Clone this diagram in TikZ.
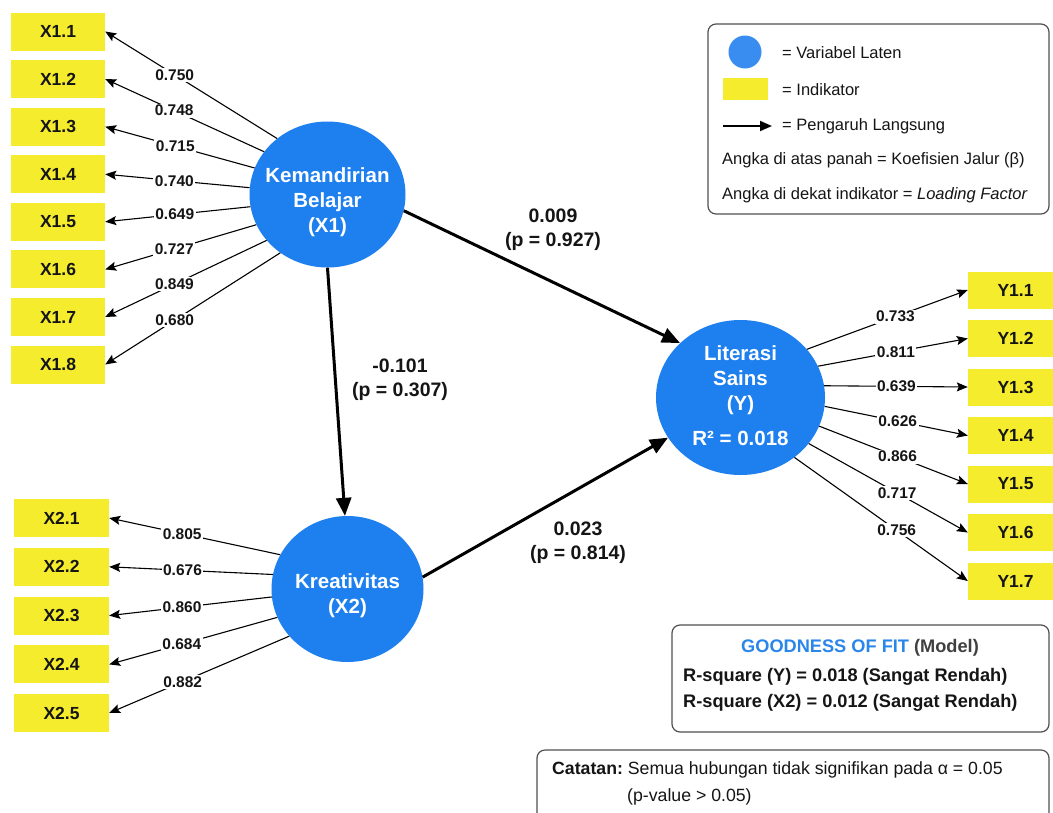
\documentclass[tikz,border=0pt]{standalone}
\usepackage{fontspec}
\setmainfont{Liberation Sans}
\usetikzlibrary{arrows.meta,shapes.geometric}
\definecolor{lvblue}{HTML}{1E7FEF}
\definecolor{legblue}{HTML}{3A8DF0}
\definecolor{indyel}{HTML}{F6EC2E}
\definecolor{txt}{HTML}{151515}
\definecolor{boxgray}{HTML}{505050}
\definecolor{gofblue}{HTML}{2A86EA}
\definecolor{modelgray}{HTML}{404040}
\frenchspacing
\begin{document}
\begin{tikzpicture}[x=1pt,y=-1pt,
  latent/.style={ellipse, fill=lvblue, inner sep=0pt},
  lvtext/.style={text=white, font=\fontsize{20.5}{25}\selectfont\bfseries, align=center, inner sep=0pt},
  ind/.style={rectangle, fill=indyel, minimum height=38pt, inner sep=0pt, text=txt, font=\fontsize{17.5}{20}\selectfont\bfseries},
  load/.style={draw=black, line width=1.1pt, -{Stealth[length=11pt,width=9pt,inset=2pt]}},
  lab/.style={fill=white, text=txt, font=\fontsize{15.5}{18}\selectfont\bfseries, inner sep=1.5pt},
  patharrow/.style={draw=black, line width=3pt, -{Triangle[length=18pt,width=15pt]}},
  plab/.style={text=txt, font=\fontsize{19.5}{24}\selectfont\bfseries, align=center, inner sep=0pt},
  legtxt/.style={text=txt, font=\fontsize{16.5}{19}\selectfont, inner sep=0pt, anchor=west},
  frame/.style={draw=boxgray, line width=1.2pt, rounded corners=8pt, fill=white},
  gofl/.style={text=txt, font=\fontsize{18.2}{22}\selectfont\bfseries, inner sep=0pt, anchor=west},
  cattxt/.style={text=txt, font=\fontsize{17.7}{21}\selectfont, inner sep=0pt, anchor=west}
]
\clip (0,0) rectangle (1053,812);
\fill[white] (0,0) rectangle (1053,812);

% latent variables
\node[latent, minimum width=156pt, minimum height=146pt] (X1) at (327.5,194.5) {};
\node[latent, minimum width=152pt, minimum height=146pt] (X2) at (347.5,589) {};
\node[latent, minimum width=169pt, minimum height=155pt] (Y) at (740.5,397.5) {};
\node[lvtext] (X1t) at (327.5,202) {Kemandirian\\Belajar\\(X1)};
\node[lvtext] (X2t) at (347.5,595.5) {Kreativitas\\(X2)};
\node[lvtext] (Yt) at (740.5,396) {Literasi\\Sains\\(Y)\\[10pt]R² = 0.018};

% X1 indicators
\node[ind, minimum width=94pt] (x11) at (58,31.5) {X1.1};
\node[ind, minimum width=94pt] (x12) at (58,79) {X1.2};
\node[ind, minimum width=94pt] (x13) at (58,126.7) {X1.3};
\node[ind, minimum width=94pt] (x14) at (58,174.2) {X1.4};
\node[ind, minimum width=94pt] (x15) at (58,221.8) {X1.5};
\node[ind, minimum width=94pt] (x16) at (58,269.4) {X1.6};
\node[ind, minimum width=94pt] (x17) at (58,317) {X1.7};
\node[ind, minimum width=94pt] (x18) at (58,364.5) {X1.8};

\draw[load] (X1.132) -- node[lab,pos=0.596] (l11) {0.750} (x11.east);
\draw[load] (X1.146) -- node[lab,pos=0.566] (l12) {0.748} (x12.east);
\draw[load] (X1.160) -- node[lab,pos=0.531] (l13) {0.715} (x13.east);
\draw[load] (X1.175) -- node[lab,pos=0.521] (l14) {0.740} (x14.east);
\draw[load] (X1.189) -- node[lab,pos=0.521] (l15) {0.649} (x15.east);
\draw[load] (X1.203) -- node[lab,pos=0.543] (l16) {0.727} (x16.east);
\draw[load] (X1.217) -- node[lab,pos=0.571] (l17) {0.849} (x17.east);
\draw[load] (X1.231) -- node[lab,pos=0.603] (l18) {0.680} (x18.east);

% X2 indicators
\node[ind, minimum width=95pt] (x21) at (61.5,518) {X2.1};
\node[ind, minimum width=95pt] (x22) at (61.5,566.8) {X2.2};
\node[ind, minimum width=95pt] (x23) at (61.5,615.6) {X2.3};
\node[ind, minimum width=95pt] (x24) at (61.5,664.4) {X2.4};
\node[ind, minimum width=95pt] (x25) at (61.5,713) {X2.5};

\draw[load] (X2.153) -- node[lab,pos=0.573] (l21) {0.805} (x21.east);
\draw[load] (X2.169) -- node[lab,pos=0.552] (l22) {0.676} (x22.east);
\draw[load] (X2.186) -- node[lab,pos=0.552] (l23) {0.860} (x23.east);
\draw[load] (X2.202) -- node[lab,pos=0.568] (l24) {0.684} (x24.east);
\draw[load] (X2.219) -- node[lab,pos=0.592] (l25) {0.882} (x25.east);

% Y indicators
\node[ind, minimum width=95pt, minimum height=37pt] (y11) at (1015.5,290) {Y1.1};
\node[ind, minimum width=95pt, minimum height=37pt] (y12) at (1015.5,338.5) {Y1.2};
\node[ind, minimum width=95pt, minimum height=37pt] (y13) at (1015.5,387) {Y1.3};
\node[ind, minimum width=95pt, minimum height=37pt] (y14) at (1015.5,435.5) {Y1.4};
\node[ind, minimum width=95pt, minimum height=37pt] (y15) at (1015.5,484) {Y1.5};
\node[ind, minimum width=95pt, minimum height=37pt] (y16) at (1015.5,532.5) {Y1.6};
\node[ind, minimum width=95pt, minimum height=37pt] (y17) at (1015.5,581) {Y1.7};

\draw[load] (Y.36) -- node[lab,pos=0.55] (m1) {0.733} (y11.west);
\draw[load] (Y.22) -- node[lab,pos=0.52] (m2) {0.811} (y12.west);
\draw[load] (Y.8) -- node[lab,pos=0.503] (m3) {0.639} (y13.west);
\draw[load] (Y.-6) -- node[lab,pos=0.51] (m4) {0.626} (y14.west);
\draw[load] (Y.-20) -- node[lab,pos=0.527] (m5) {0.866} (y15.west);
\draw[load] (Y.-34) -- node[lab,pos=0.556] (m6) {0.717} (y16.west);
\draw[load] (Y.-48) -- node[lab,pos=0.59] (m7) {0.756} (y17.west);

% structural paths
\draw[patharrow] (X1.-12) -- (Y.138);
\draw[patharrow] (X1.270) -- (X2.92);
\draw[patharrow] (X2.9) -- (Y.209);
\node[plab] (p1) at (553,230) {0.009\\(p = 0.927)};
\node[plab] (p2) at (400,380) {-0.101\\(p = 0.307)};
\node[plab] (p3) at (578,543) {0.023\\(p = 0.814)};

% legend
\draw[frame] (708,24) rectangle (1049,214);
\node[circle, fill=legblue, minimum size=33pt, inner sep=0pt] (lc) at (745,52) {};
\node[rectangle, fill=indyel, minimum width=45pt, minimum height=22pt, inner sep=0pt] (lr) at (745.5,89) {};
\coordinate (la1) at (723,126);
\coordinate (la2) at (772,126);
\draw[line width=1.8pt, -{Triangle[length=12pt,width=10pt]}] (la1) -- (la2);
\node[legtxt] (lt1) at (782,53) {= Variabel Laten};
\node[legtxt] (lt2) at (782,90) {= Indikator};
\node[legtxt] (lt3) at (782,126) {= Pengaruh Langsung};
\node[legtxt] (lt4) at (722,160) {Angka di atas panah = Koefisien Jalur (β)};
\node[legtxt] (lt5) at (722,195) {Angka di dekat indikator = \textit{Loading Factor}};

% goodness of fit
\draw[frame] (672,625) rectangle (1049,732);
\node[text=modelgray, font=\fontsize{18.2}{22}\selectfont\bfseries, inner sep=0pt] (g0) at (860,648) {\textcolor{gofblue}{GOODNESS OF FIT} (Model)};
\node[gofl] (g1) at (683,677) {R-square (Y) = 0.018 (Sangat Rendah)};
\node[gofl] (g2) at (683,703) {R-square (X2) = 0.012 (Sangat Rendah)};

% note
\draw[frame] (537,750) rectangle (1049,850);
\node[cattxt] (c1) at (552,770) {\textbf{Catatan:} Semua hubungan tidak signifikan pada α = 0.05};
\node[cattxt] (c2) at (627,797) {(p-value > 0.05)};
\end{tikzpicture}
\end{document}
